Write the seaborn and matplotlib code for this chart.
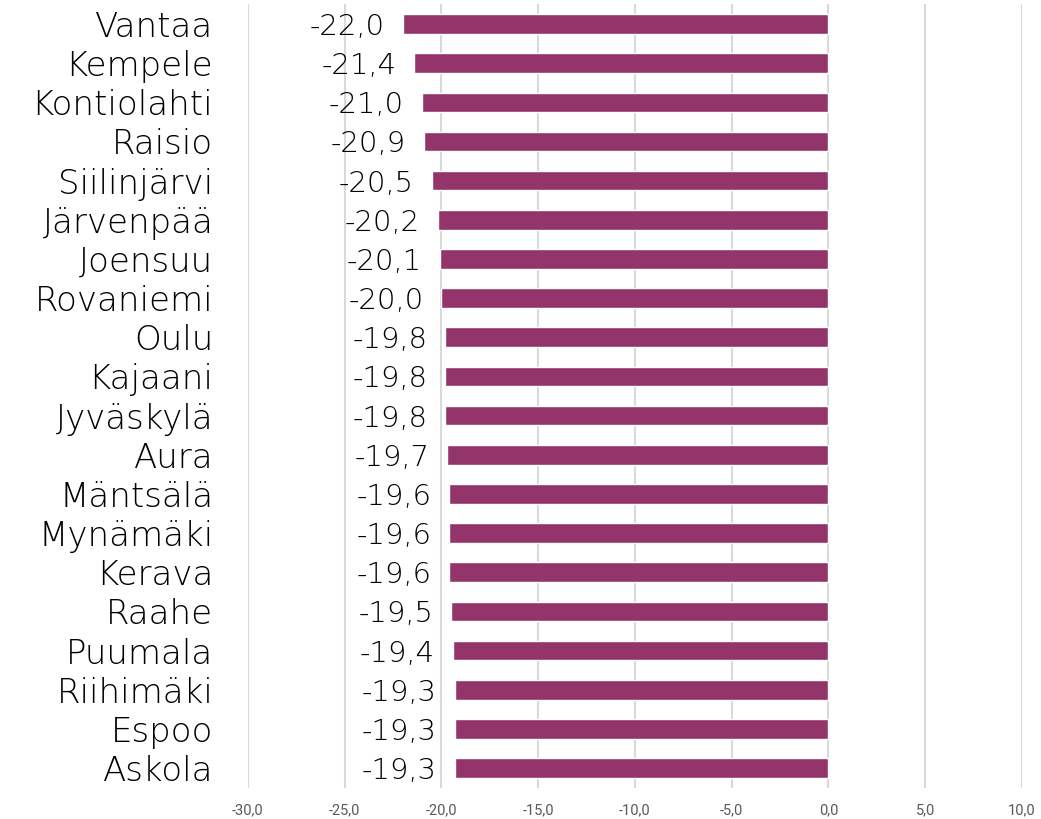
import pandas as pd
import seaborn as sns
import matplotlib.pyplot as plt

## Dados
kunnat = ['Vantaa', 'Kempele', 'Kontiolahti', 'Raisio', 'Siilinjärvi', 'Järvenpää', 'Joensuu',
          'Rovaniemi', 'Oulu', 'Kajaani', 'Jyväskylä', 'Aura', 'Mäntsälä', 'Mynämäki', 'Kerava',
          'Raahe', 'Puumala', 'Riihimäki', 'Espoo', 'Askola']
arvot = [-22.0, -21.4, -21.0, -20.9, -20.5, -20.2, -20.1, -20.0, -19.8, -19.8, -19.8,
         -19.7, -19.6, -19.6, -19.6, -19.5, -19.4, -19.3, -19.3, -19.3]
xticks = [-30, -25, -20, -15, -10, -5, 0, 5, 10]

df = pd.DataFrame({'kunta': kunnat, 'arvo': arvot})

sns.set_style('white')
plt.rcParams['font.family'] = ['DejaVu Sans']

fig = plt.figure(figsize=(10.41, 8.19), dpi=100)
ax = fig.add_axes([0.2382, 0.0383, 0.7435, 0.9563])

sns.barplot(data=df, x='arvo', y='kunta', orient='h', color='#93356a',
            saturation=1, width=0.5, ax=ax, zorder=3)

## Arvojen tekstit
tekstit = ax.bar_label(ax.containers[0], labels=[f'{v:.1f}'.replace('.', ',') for v in arvot],
                       padding=13, fontsize=21, color='black', fontweight='light', zorder=4)
for t in tekstit:
    t.set_va('center_baseline')

ax.set_xlim(-30, 10)
ax.set_ylim(19.5, -0.5)
ax.set_xticks(xticks)
ax.set_xticklabels([f'{t:.1f}'.replace('.', ',') for t in xticks], fontsize=10.5,
                   color='#595959', family='Roboto')
ax.tick_params(axis='y', labelsize=24.5, labelcolor='black', length=0, pad=25)
for lab in ax.get_yticklabels():
    lab.set_fontweight('light')
ax.tick_params(axis='x', length=0, pad=11)
ax.grid(axis='x', color='#d9d9d9', linewidth=1.5, zorder=0)
ax.set_axisbelow(True)
ax.set_xlabel('')
ax.set_ylabel('')
sns.despine(left=True, bottom=True)

plt.savefig('out.png', dpi=100)
